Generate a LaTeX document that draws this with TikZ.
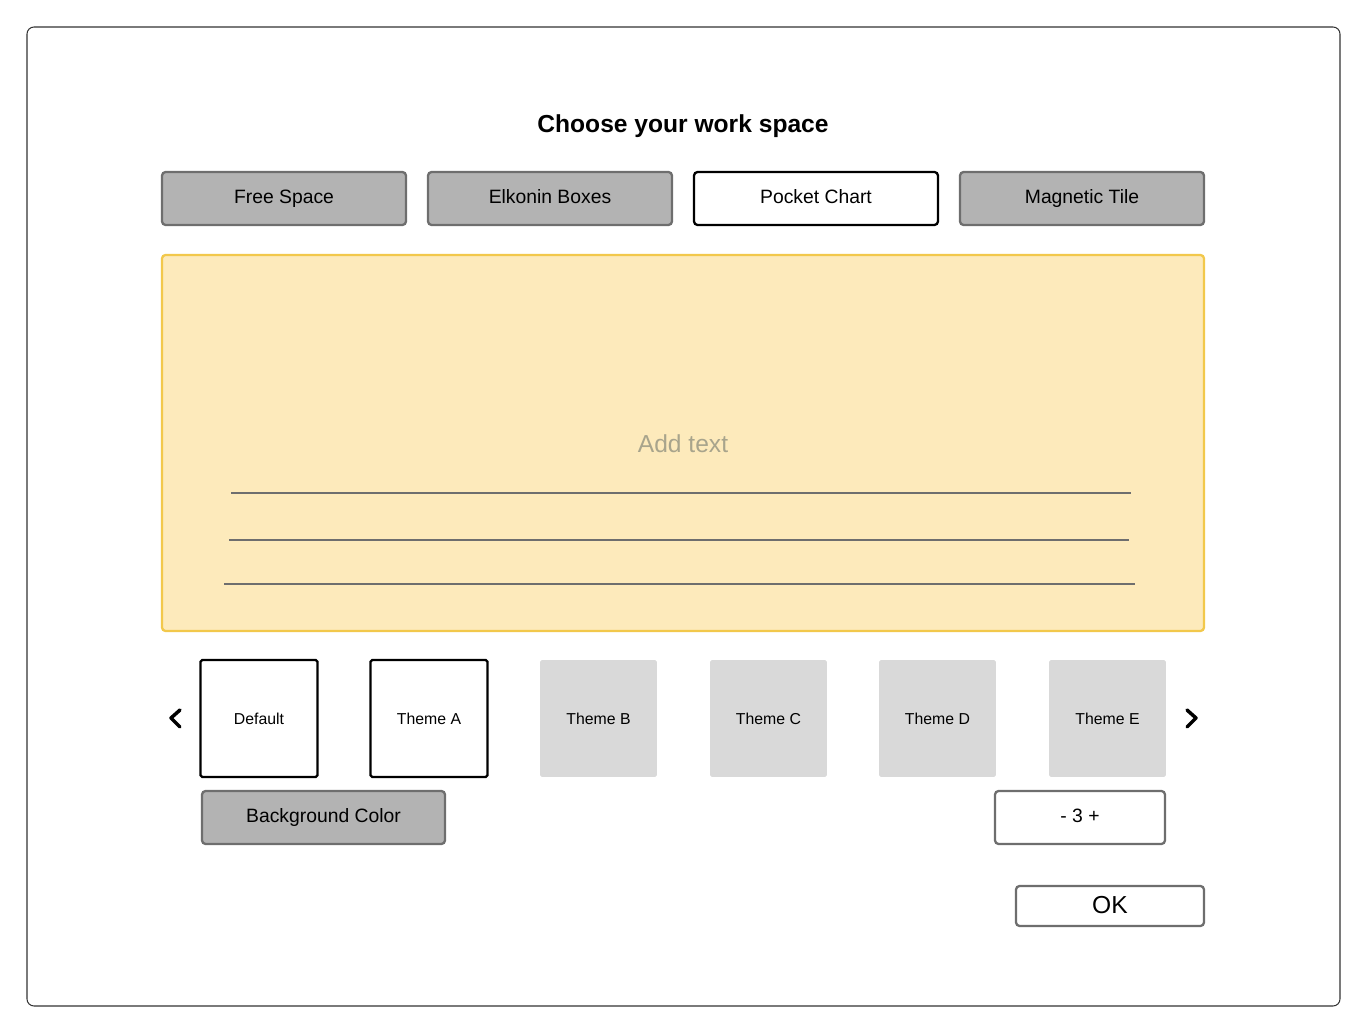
\documentclass[tikz,border=0pt]{standalone}
\usepackage{fontspec}
\setmainfont{Liberation Sans}
\usetikzlibrary{positioning}
\definecolor{tabgray}{HTML}{B3B3B3}
\definecolor{edgegray}{HTML}{6E6E6E}
\definecolor{cardgray}{HTML}{D9D9D9}
\definecolor{paper}{HTML}{FDEABB}
\definecolor{paperedge}{HTML}{F2C84B}
\definecolor{hint}{HTML}{A8A48C}

\begin{document}
\begin{tikzpicture}[x=0.02cm, y=-0.02cm, semithick]
    \tikzstyle{tab}=[draw=edgegray, fill=tabgray, line width=1.3pt, rounded corners=2pt, minimum width=4.88cm, minimum height=1.06cm, text height=8pt, text depth=2pt, font=\fontsize{11}{13}\selectfont]
    \tikzstyle{picked}=[tab, draw=black, fill=white]
    \tikzstyle{card}=[fill=cardgray, rounded corners=1pt, minimum width=2.34cm, minimum height=2.34cm, font=\fontsize{9}{11}\selectfont]
    \tikzstyle{chosen}=[card, draw=black, fill=white, line width=1.3pt]
    \tikzstyle{rule}=[draw=edgegray, line width=1.2pt]
    \tikzstyle{chev}=[draw=black, line width=2pt, line cap=round, line join=round]

    \useasboundingbox (0,0) rectangle (1367,1033);
    \draw[draw=black!80, rounded corners=4pt] (27,27) rectangle (1340,1006);

    \node[font=\bfseries\fontsize{14}{16}\selectfont] (title) at (683,126) {Choose your work space};

    % tabs
    \node[tab]    (free)   at (284,198.5)  {Free Space};
    \node[tab]    (elk)    at (550,198.5)  {Elkonin Boxes};
    \node[picked] (pocket) at (816,198.5)  {Pocket Chart};
    \node[tab]    (mag)    at (1082,198.5) {Magnetic Tile};

    % writing panel
    \draw[draw=paperedge, fill=paper, line width=1.3pt, rounded corners=2pt] (162,255) rectangle (1204,631);
    \node[text=hint, font=\fontsize{14}{16}\selectfont] (add) at (683,444) {Add text};
    \draw[rule] (231,493) -- (1131,493);
    \draw[rule] (229,540) -- (1129,540);
    \draw[rule] (224,584) -- (1135,584);

    % themes
    \node[chosen] (def) at (259,718.5)  {Default};
    \node[chosen] (ta)  at (429,718.5)  {Theme A};
    \node[card]   (tb)  at (598.5,718.5) {Theme B};
    \node[card]   (tc)  at (768.5,718.5) {Theme C};
    \node[card]   (td)  at (937.5,718.5) {Theme D};
    \node[card]   (te)  at (1107.5,718.5) {Theme E};
    \draw[chev] (180,710) -- (171,718) -- (180,727);
    \draw[chev] (1187,710) -- (1196,718) -- (1187,727);

    % controls
    \node[tab, minimum width=4.86cm] (bg) at (323.5,817.5) {Background Color};
    \node[picked, draw=edgegray, minimum width=3.4cm] (count) at (1080,817.5) {- 3 +};
    \node[picked, draw=edgegray, minimum width=3.76cm, minimum height=0.8cm, text height=10pt, font=\fontsize{14}{16}\selectfont] (ok) at (1110,906) {OK};
\end{tikzpicture}
\end{document}
